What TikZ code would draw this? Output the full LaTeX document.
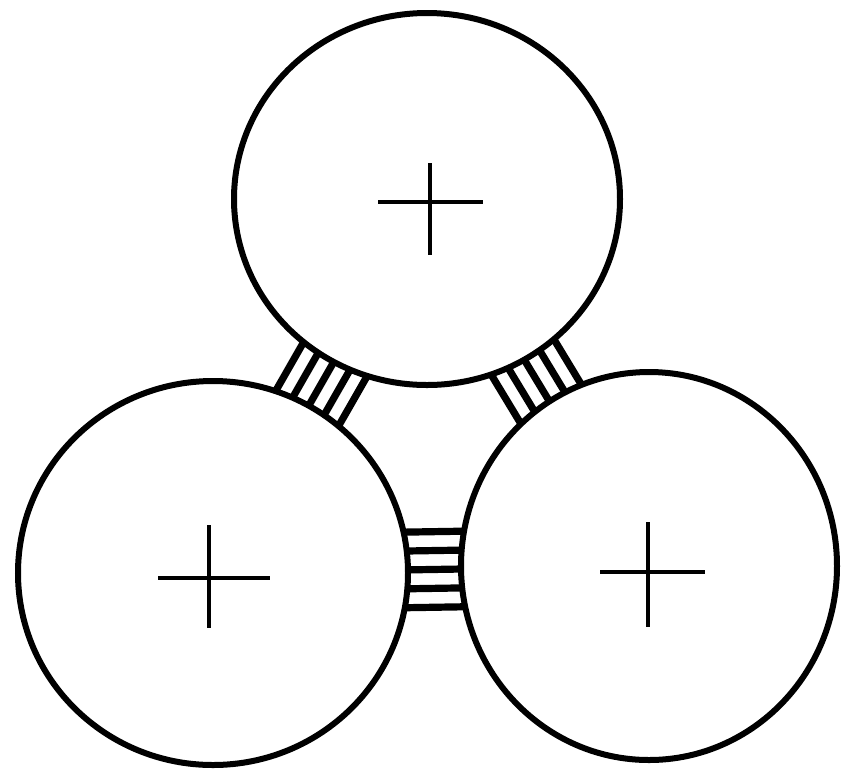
\documentclass[tikz,border=0pt]{standalone}
\usetikzlibrary{calc}
\tikzset{
  ring/.style={draw=black, fill=white, line width=3pt},
  rung/.style={draw=black, line width=3.6pt},
  mark cross/.style={draw=black, line width=2pt},
}
\begin{document}
\begin{tikzpicture}[x=0.5pt, y=-0.5pt]
\useasboundingbox (0,0) rectangle (841,773);
% centres
\coordinate (T) at (427,199);
\coordinate (L) at (213,573);
\coordinate (R) at (649,566);
% ladder rungs between the circles
\foreach \d in {-36,-18,0,18,36}{
  \draw[rung] ($(T)!\d*0.5pt!90:(L)$) -- ($(L)!\d*0.5pt!-90:(T)$);
  \draw[rung] ($(T)!\d*0.5pt!90:(R)$) -- ($(R)!\d*0.5pt!-90:(T)$);
  \draw[rung] ($(L)!\d*1.05*0.5pt!90:(R)$) -- ($(R)!\d*1.05*0.5pt!-90:(L)$);
}
% circles
\draw[ring] (T) ellipse [x radius=193, y radius=186];
\draw[ring] (L) ellipse [x radius=195, y radius=192];
\draw[ring] (R) ellipse [x radius=188, y radius=194];
% crosses
\coordinate (Tc) at (430,202);
\coordinate (Lc) at (209,578);
\coordinate (Rc) at (648,572);
\draw[mark cross] ($(Tc)+(-52,0)$) -- ($(Tc)+(53,0)$);
\draw[mark cross] ($(Tc)+(0,-39)$) -- ($(Tc)+(0,53)$);
\draw[mark cross] ($(Lc)+(-51,0)$) -- ($(Lc)+(61,0)$);
\draw[mark cross] ($(Lc)+(0,-53)$) -- ($(Lc)+(0,50)$);
\draw[mark cross] ($(Rc)+(-48,0)$) -- ($(Rc)+(57,0)$);
\draw[mark cross] ($(Rc)+(0,-50)$) -- ($(Rc)+(0,55)$);
\end{tikzpicture}
\end{document}
